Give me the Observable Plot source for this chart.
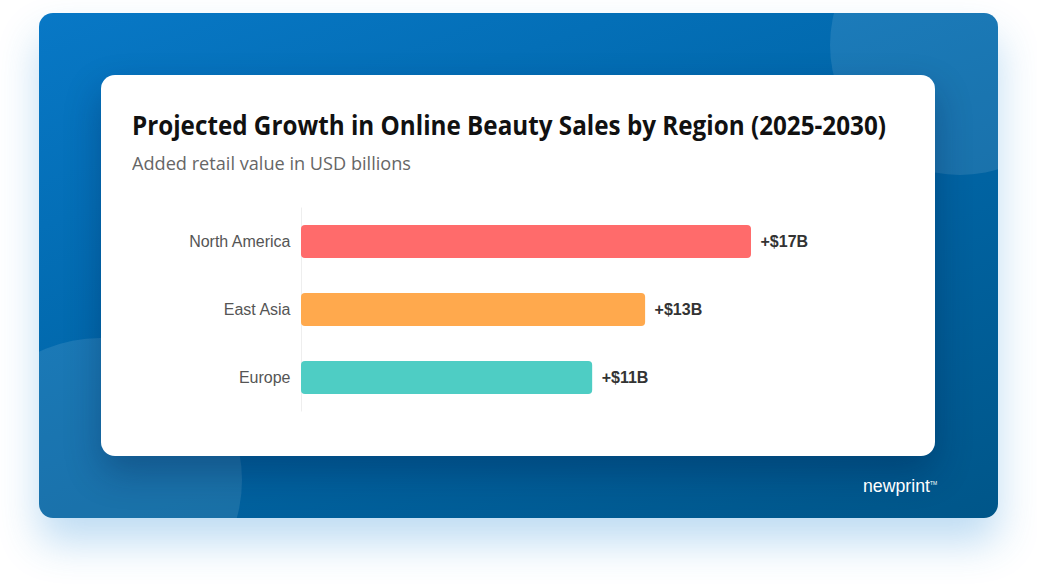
<!DOCTYPE html>
<html>
<head>
<meta charset="utf-8">
<script src="https://cdn.jsdelivr.net/npm/d3@7"></script>
<script src="https://cdn.jsdelivr.net/npm/@observablehq/plot@0.6"></script>
<style>
  html, body { margin: 0; padding: 0; background: #ffffff; }
  body { width: 1037px; height: 584px; position: relative; overflow: hidden; font-family: "Liberation Sans", Arial, sans-serif; }
  #bg {
    position: absolute; left: 39px; top: 13px; width: 959px; height: 505px;
    border-radius: 14px; overflow: hidden;
    background: linear-gradient(160deg, #0878c6 0%, #0066a8 50%, #005689 100%);
    box-shadow: 0 24px 40px rgba(40, 140, 215, 0.30);
  }
  .circle { position: absolute; border-radius: 50%; background: rgba(255,255,255,0.10); }
  #card {
    position: absolute; left: 101px; top: 75px; width: 834px; height: 381px;
    background: #ffffff; border-radius: 14px;
    box-shadow: 0 16px 36px rgba(0, 20, 60, 0.30);
  }
  .fit { position: absolute; white-space: nowrap; line-height: 1; transform-origin: 0 0; display: inline-block; }
  #title { left: 132px; top: 112px; font-family: "Open Sans", Lato, sans-serif; font-weight: 700; font-size: 26px; color: #111; }
  #subtitle { left: 132px; top: 153.5px; font-family: "Open Sans", Lato, sans-serif; font-weight: 400; font-size: 18.5px; color: #666; }
  #logo { left: 863px; top: 476px; font-family: "Liberation Sans", Arial, sans-serif; font-size: 19px; color: #fff; }
  #tm { position: absolute; left: 930px; top: 480px; font-size: 5px; color: #fff; font-family: "Liberation Sans", Arial, sans-serif; }
  #chart { position: absolute; left: 101px; top: 190px; }
</style>
</head>
<body>
<div id="bg">
  <div class="circle" style="left:791px; top:-98px; width:260px; height:260px;"></div>
  <div class="circle" style="left:-81px; top:325px; width:284px; height:284px;"></div>
</div>
<div id="card"></div>
<div id="title" class="fit" data-w="754">Projected Growth in Online Beauty Sales by Region (2025-2030)</div>
<div id="subtitle" class="fit" data-w="279">Added retail value in USD billions</div>
<div id="logo" class="fit" data-w="67">newprint</div>
<div id="tm">TM</div>
<div id="chart"></div>
<script>
const regions = ["North America", "East Asia", "Europe"];
const values = [17, 13, 11];
const colors = ["#ff6b6b", "#ffa94d", "#4ecdc4"];

const data = regions.map((r, i) => ({region: r, value: values[i], color: colors[i]}));

const chart = Plot.plot({
  width: 834,
  height: 240,
  marginLeft: 200,
  marginRight: 104.6,
  marginTop: 17.5,
  marginBottom: 18.5,
  style: {fontFamily: '"Liberation Sans", Arial, sans-serif', background: "transparent", overflow: "visible"},
  x: {domain: [0, 20], axis: null},
  y: {domain: regions, axis: null, paddingInner: 0.515, paddingOuter: 0.2575},
  marks: [
    Plot.ruleX([0], {stroke: "#eeeeee", strokeWidth: 1}),
    Plot.barX(data, {y: "region", x: "value", fill: "color", rx: 4}),
    Plot.text(data, {x: 0, y: "region", text: "region", textAnchor: "end", dx: -11, fontSize: 16, fill: "#555"}),
    Plot.text(data, {x: "value", y: "region", text: d => `+$${d.value}B`, textAnchor: "start", dx: 9, fontSize: 16, fontWeight: "bold", fill: "#333"})
  ]
});
document.getElementById("chart").appendChild(chart);

document.querySelectorAll(".fit").forEach(el => {
  const target = +el.dataset.w;
  const w = el.getBoundingClientRect().width;
  el.style.transform = `scaleX(${target / w})`;
});
</script>
</body>
</html>
